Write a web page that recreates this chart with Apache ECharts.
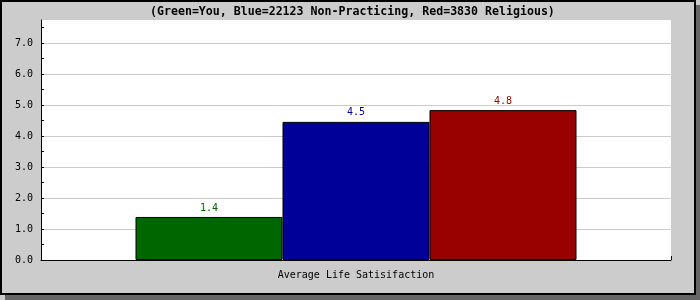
<!DOCTYPE html>
<html>
<head>
<meta charset="utf-8">
<style>html,body{margin:0;padding:0;background:#ccc;}#c{width:700px;height:300px;}</style>
<script src="https://cdn.jsdelivr.net/npm/echarts@6/dist/echarts.min.js"></script>
</head>
<body>
<div id="c"></div>
<script>
const titleText = '(Green=You, Blue=22123 Non-Practicing, Red=3830 Religious)';
const categories = ['Average Life Satisifaction'];
const seriesNames = ['You', 'Non-Practicing', 'Religious'];
const seriesValues = [1.39, 4.46, 4.84];
const seriesColors = ['#006600', '#000099', '#990000'];
const yMin = 0, yMax = 7.75, yStep = 1, yMinorStep = 0.5;
const yTickValues = [0, 0.5, 1, 1.5, 2, 2.5, 3, 3.5, 4, 4.5, 5, 5.5, 6, 6.5, 7, 7.5];

const mono = 'DejaVu Sans Mono';
const chart = echarts.init(document.getElementById('c'), null, {renderer: 'canvas'});

const series = seriesNames.map((name, i) => ({
  name: name,
  type: 'bar',
  data: [seriesValues[i]],
  barGap: '0%',
  barCategoryGap: '30%',
  itemStyle: {color: seriesColors[i], borderColor: '#000', borderWidth: 1},
  label: {
    show: true, position: 'top', distance: 4,
    fontFamily: mono, fontSize: 10, color: seriesColors[i],
    formatter: p => p.value.toFixed(1)
  }
}));

chart.setOption({
  animation: false,
  backgroundColor: '#cccccc',
  graphic: [
    {type: 'rect', z: -100, shape: {x: 5, y: 5, width: 695, height: 295}, style: {fill: '#666666'}},
    {type: 'rect', z: -99, shape: {x: 1, y: 1, width: 694, height: 293}, style: {fill: '#cccccc', stroke: '#000', lineWidth: 2}}
  ],
  title: {
    text: titleText, left: 150, top: 5, padding: 0,
    textStyle: {fontFamily: mono, fontSize: 11.6, lineHeight: 14, fontWeight: 'bold', color: '#000'}
  },
  grid: {left: 41, top: 20, right: 29, bottom: 40, show: true, backgroundColor: '#fff', borderWidth: 0},
  xAxis: {
    type: 'category', data: categories,
    axisLine: {lineStyle: {color: '#000', width: 1}},
    axisTick: {show: true, inside: true, length: 4, lineStyle: {color: '#000'}},
    axisLabel: {fontFamily: mono, fontSize: 10, color: '#000', margin: 10}
  },
  yAxis: [{
    type: 'value', min: yMin, max: yMax, interval: yStep,
    axisLine: {show: true, lineStyle: {color: '#000', width: 1}},
    axisTick: {show: false},
    axisLabel: {fontFamily: mono, fontSize: 10, color: '#000', margin: 8,
      formatter: v => (Math.abs(v - Math.round(v)) < 1e-9 ? v.toFixed(1) : '')},
    splitLine: {show: true, showMaxLine: false, lineStyle: {color: '#cccccc', width: 1}}
  }, {
    type: 'value', min: yMin, max: yMax, interval: yMinorStep, position: 'left',
    axisLine: {show: false},
    axisTick: {show: true, inside: true, length: 3, customValues: yTickValues, lineStyle: {color: '#000'}},
    axisLabel: {show: false},
    splitLine: {show: false}
  }],
  series: series
});
</script>
</body>
</html>
